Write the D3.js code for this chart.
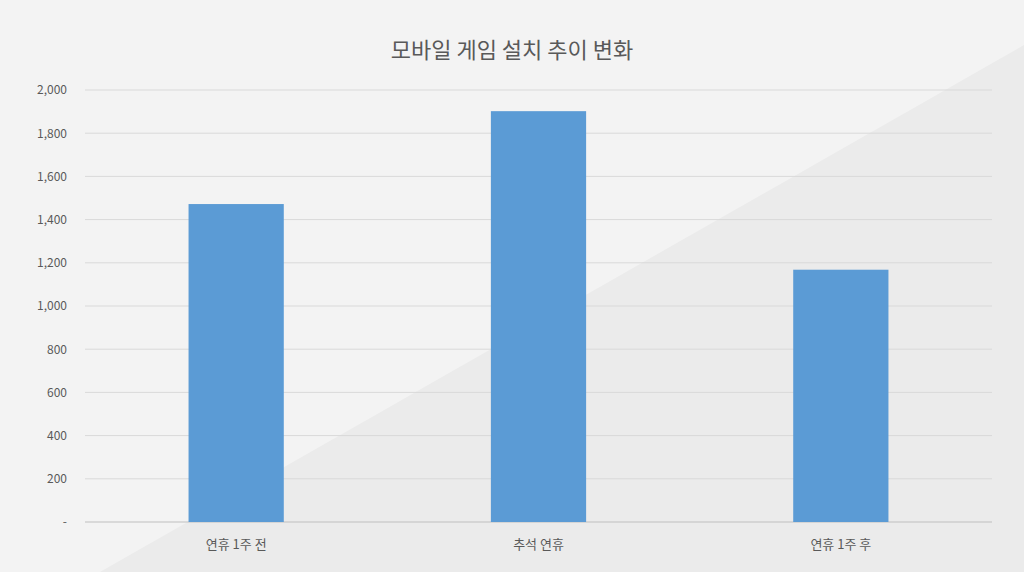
<!DOCTYPE html>
<html>
<head>
<meta charset="utf-8">
<script src="https://cdn.jsdelivr.net/npm/d3@7"></script>
<style>
  body { margin: 0; }
  text { font-family: "Noto Sans CJK KR", "Noto Sans", sans-serif; }
</style>
</head>
<body>
<div id="chart"></div>
<script>
var categories = ["연휴 1주 전", "추석 연휴", "연휴 1주 후"];
var installs = [1472, 1902, 1168];
var yTicks = [0, 200, 400, 600, 800, 1000, 1200, 1400, 1600, 1800, 2000];

var svgWidth = 1024, svgHeight = 572;
var margin = { top: 90, right: 32, bottom: 50, left: 85 };
var width = svgWidth - margin.left - margin.right;
var height = svgHeight - margin.top - margin.bottom;

var svg = d3.select("#chart").append("svg")
  .attr("width", svgWidth).attr("height", svgHeight);

// background with diagonal shade
svg.append("rect").attr("width", svgWidth).attr("height", svgHeight).attr("fill", "#f3f3f3");
svg.append("path")
  .attr("d", `M100,${svgHeight} L${svgWidth},45 L${svgWidth},${svgHeight} Z`)
  .attr("fill", "#ebebeb");

svg.append("text")
  .attr("x", svgWidth / 2).attr("y", 58)
  .attr("text-anchor", "middle")
  .attr("font-size", "22px").attr("fill", "#595959")
  .text("모바일 게임 설치 추이 변화");

var chartGroup = svg.append("g")
  .attr("transform", `translate(${margin.left}, ${margin.top})`);

var x = d3.scaleBand().domain(categories).range([0, width]).paddingInner(0.685).paddingOuter(0.3425);
var y = d3.scaleLinear().domain([0, 2000]).range([height, 0]);

// gridlines
chartGroup.selectAll("line.grid").data(yTicks).enter().append("line")
  .attr("x1", 0).attr("x2", width)
  .attr("y1", d => y(d)).attr("y2", d => y(d))
  .attr("stroke", d => d === 0 ? "#bfbfbf" : "#d9d9d9");

var yAxis = d3.axisLeft(y).tickValues(yTicks).tickSize(0).tickPadding(18)
  .tickFormat(d => d === 0 ? "-" : d3.format(",")(d));
var ya = chartGroup.append("g").call(yAxis);
ya.select(".domain").remove();
ya.selectAll("text").attr("font-size", "12px").attr("fill", "#595959");

chartGroup.selectAll("rect.bar").data(categories).enter().append("rect")
  .attr("x", d => x(d)).attr("width", x.bandwidth())
  .attr("y", (d, i) => y(installs[i]))
  .attr("height", (d, i) => height - y(installs[i]))
  .attr("fill", "#5b9bd5");

var xAxis = d3.axisBottom(x).tickSize(0).tickPadding(18);
var xa = chartGroup.append("g").attr("transform", `translate(0, ${height})`).call(xAxis);
xa.select(".domain").remove();
xa.selectAll("text").attr("font-size", "13px").attr("fill", "#595959");
</script>
</body>
</html>
